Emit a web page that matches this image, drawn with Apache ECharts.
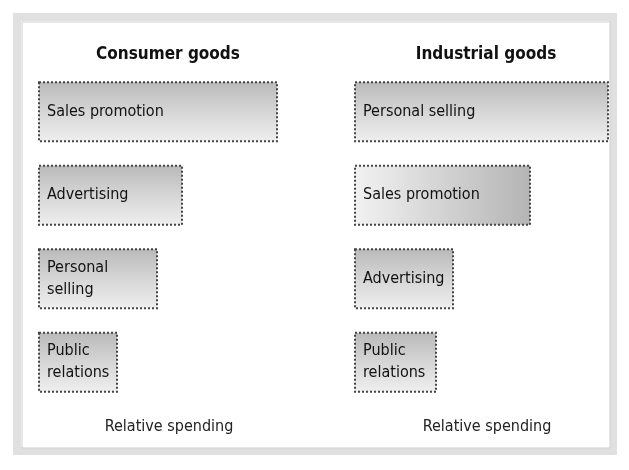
<!DOCTYPE html>
<html>
<head>
<meta charset="utf-8">
<script src="https://cdn.jsdelivr.net/npm/echarts@6/dist/echarts.min.js"></script>
<style>
  html, body { margin: 0; padding: 0; background: #fff; }
  #main { width: 629px; height: 470px; }
</style>
</head>
<body>
<div id="main"></div>
<script>
// relative spending
var consumerCats = ['Sales promotion', 'Advertising', 'Personal\nselling', 'Public\nrelations'];
var consumerVals = [24, 14.5, 12, 8];
var industrialCats = ['Personal selling', 'Sales promotion', 'Advertising', 'Public\nrelations'];
var industrialVals = [25.5, 17.7, 10, 8.3];

var narrow = '"Liberation Sans Narrow", "DejaVu Sans Condensed", sans-serif';

function vGrad() {
    return new echarts.graphic.LinearGradient(0, 0, 0, 1, [
        {offset: 0, color: '#b9b9b9'},
        {offset: 0.5, color: '#d6d6d6'},
        {offset: 1, color: '#efefef'}
    ]);
}
function hGrad() {
    return new echarts.graphic.LinearGradient(0, 0, 1, 0, [
        {offset: 0, color: '#f2f2f2'},
        {offset: 1, color: '#b4b4b4'}
    ]);
}

function barData(vals, horiz) {
    return vals.map(function (v, i) {
        return {
            value: v,
            itemStyle: {color: horiz[i] ? hGrad() : vGrad()}
        };
    });
}

var myChart = echarts.init(document.getElementById('main'));
var option = {
    backgroundColor: '#fff',
    animation: false,
    graphic: [
        {
            type: 'rect',
            shape: {x: 17, y: 17, width: 596, height: 434},
            style: {fill: 'none', stroke: '#e0e0e0', lineWidth: 8},
            z: -1
        },
        {
            type: 'rect',
            shape: {x: 22, y: 22, width: 588, height: 426},
            style: {fill: '#fff', stroke: '#cfcfcf', lineWidth: 1},
            z: -1
        }
    ],
    title: [
        {
            text: 'Consumer goods', left: 163, top: 41, textAlign: 'center',
            textStyle: {fontFamily: narrow, fontSize: 17, fontWeight: 'bold', color: '#111'}
        },
        {
            text: 'Industrial goods', left: 481, top: 41, textAlign: 'center',
            textStyle: {fontFamily: narrow, fontSize: 17, fontWeight: 'bold', color: '#111'}
        },
        {
            text: 'Relative spending', left: 164, top: 414, textAlign: 'center',
            textStyle: {fontFamily: narrow, fontSize: 16, fontWeight: 'normal', color: '#222'}
        },
        {
            text: 'Relative spending', left: 482, top: 414, textAlign: 'center',
            textStyle: {fontFamily: narrow, fontSize: 16, fontWeight: 'normal', color: '#222'}
        }
    ],
    grid: [
        {left: 38, top: 70, width: 260, height: 334},
        {left: 354, top: 70, width: 260, height: 334}
    ],
    xAxis: [
        {gridIndex: 0, type: 'value', min: 0, max: 26, show: false},
        {gridIndex: 1, type: 'value', min: 0, max: 26, show: false}
    ],
    yAxis: [
        {gridIndex: 0, type: 'category', data: consumerCats, inverse: true, show: false},
        {gridIndex: 1, type: 'category', data: industrialCats, inverse: true, show: false}
    ],
    series: [
        {
            type: 'bar',
            xAxisIndex: 0, yAxisIndex: 0,
            barWidth: 61,
            data: barData(consumerVals, [false, false, false, false]),
            itemStyle: {borderColor: '#444', borderWidth: 2, borderType: 'dotted'},
            label: {
                show: true, position: 'insideLeft', offset: [4, 0],
                formatter: function (p) { return p.name; },
                fontFamily: narrow, fontSize: 16, color: '#111', lineHeight: 22
            }
        },
        {
            type: 'bar',
            xAxisIndex: 1, yAxisIndex: 1,
            barWidth: 61,
            data: barData(industrialVals, [false, true, false, false]),
            itemStyle: {borderColor: '#444', borderWidth: 2, borderType: 'dotted'},
            label: {
                show: true, position: 'insideLeft', offset: [4, 0],
                formatter: function (p) { return p.name; },
                fontFamily: narrow, fontSize: 16, color: '#111', lineHeight: 22
            }
        }
    ]
};
myChart.setOption(option);
</script>
</body>
</html>
